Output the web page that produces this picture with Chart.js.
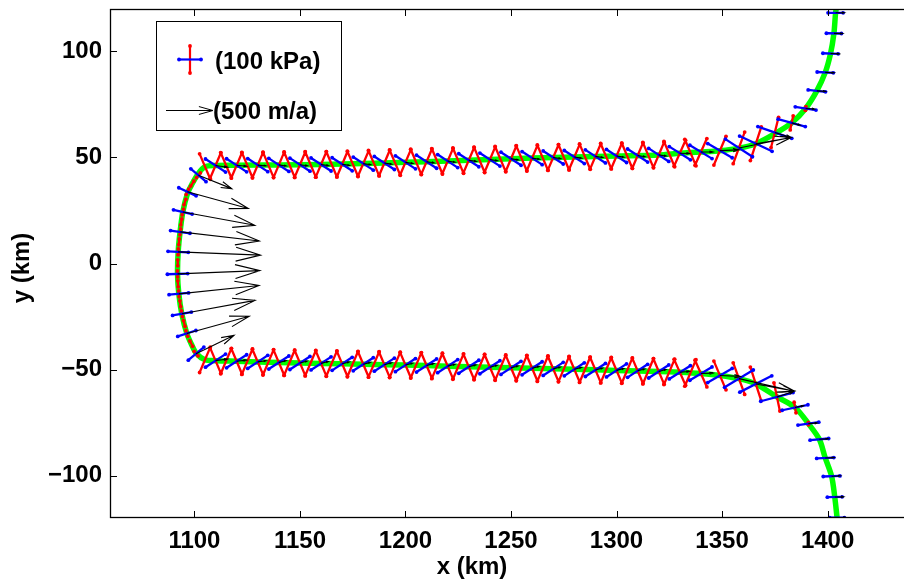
<!DOCTYPE html>
<html>
<head>
<meta charset="utf-8">
<title>Ice shelf stresses and velocities</title>
<script src="https://cdn.jsdelivr.net/npm/chart.js@4.4.1/dist/chart.umd.min.js"></script>
<style>
  html, body { margin: 0; padding: 0; background: #fff; overflow: hidden; }
  #wrap { width: 904px; height: 582px; overflow: hidden; }
</style>
</head>
<body>
<div id="wrap"><canvas id="chart" width="916" height="582"></canvas></div>
<script>
const xTicks = [1100, 1150, 1200, 1250, 1300, 1350, 1400];
const yTicks = [100, 50, 0, -50, -100];
const yTickLabels = ['100', '50', '0', '\u221250', '\u2212100'];

// boundary of the shelf (km)
const boundaryX = [1404.3, 1403.8, 1403.0, 1401.4, 1398.9, 1394.9, 1389.6, 1383.0, 1375.5, 1366.0, 1358.0, 1349.0, 1340.0, 1330.0,
  1320.0, 1300.0, 1280.0, 1260.0, 1240.0, 1220.0, 1200.0, 1180.0, 1160.0, 1140.0, 1120.0, 1110.0, 1105.0,
  1101.9, 1099.0, 1096.7, 1094.5, 1093.2, 1092.3, 1092.0, 1092.6, 1094.0, 1096.4, 1098.7, 1101.0, 1105.0,
  1110.0, 1120.0, 1140.0, 1160.0, 1180.0, 1200.0, 1220.0, 1240.0, 1260.0, 1280.0, 1300.0, 1320.0,
  1330.0, 1340.0, 1349.0, 1358.0, 1366.0, 1376.0, 1384.6, 1390.9, 1396.1, 1398.9, 1401.9, 1403.4, 1404.5, 1404.7];
const boundaryY = [121.0, 118.2, 108.5, 99.0, 90.1, 81.4, 73.1, 66.3, 61.5, 56.5, 54.4, 53.2, 52.6, 52.0,
  51.2, 50.7, 50.2, 49.7, 49.0, 48.3, 47.7, 47.1, 46.7, 46.5, 46.3, 46.2, 45.6,
  42.5, 37.7, 33.0, 24.3, 14.9, 5.5, -4.9, -14.3, -23.7, -33.0, -38.3, -42.5, -45.4,
  -45.8, -46.1, -46.7, -47.1, -47.5, -47.9, -48.4, -48.9, -49.4, -49.9, -50.4, -50.9,
  -51.3, -51.9, -52.8, -54.3, -56.8, -62.9, -67.9, -75.5, -82.9, -91.7, -100.3, -110.1, -119.8, -121.0];

// nodes with a full stress cross: semicircle (10), top margin (22), top bend (13), bottom margin (22), bottom bend (13)
const nodeX = [1101.9, 1096.7, 1094.5, 1093.3, 1092.3, 1092.0, 1092.6, 1094.1, 1096.4, 1100.8,
  1110, 1120, 1130, 1140, 1150, 1160, 1170, 1180, 1190, 1200, 1210, 1220, 1230, 1240, 1250, 1260, 1270, 1280, 1290, 1300, 1310, 1320,
  1330, 1340, 1349, 1358, 1366, 1375, 1383, 1389.6, 1394.9, 1398.9, 1401.4, 1403.0, 1403.8,
  1110, 1120, 1130, 1140, 1150, 1160, 1170, 1180, 1190, 1200, 1210, 1220, 1230, 1240, 1250, 1260, 1270, 1280, 1290, 1300, 1310, 1320,
  1330, 1340, 1349, 1358, 1366, 1376, 1384.6, 1390.9, 1396.1, 1398.9, 1401.9, 1403.4, 1404.5];
const nodeY = [41.6, 33.8, 24.3, 14.9, 5.5, -4.9, -14.3, -23.7, -33.0, -42.5,
  46.2, 46.3, 46.4, 46.5, 46.6, 46.7, 46.8, 47.1, 47.4, 47.7, 48.0, 48.3, 48.7, 49.0, 49.4, 49.7, 50.0, 50.2, 50.5, 50.7, 50.9, 51.2,
  52.0, 52.6, 53.2, 54.5, 56.5, 61.8, 66.3, 73.1, 81.4, 90.1, 99.0, 108.5, 118.2,
  -45.8, -46.1, -46.4, -46.7, -46.9, -47.1, -47.3, -47.5, -47.7, -47.9, -48.1, -48.4, -48.7, -48.9, -49.2, -49.4, -49.7, -49.9, -50.2, -50.4, -50.6, -50.9,
  -51.3, -51.9, -52.8, -54.3, -56.8, -62.9, -67.9, -75.5, -82.9, -91.7, -100.3, -110.1, -119.8];
// tensile axis (blue), degrees and kPa
const blueAngle = [-40, -25, -13, -8, -3, 2, 5, 10, 18, 40,
  -33, -33, -33, -33, -33, -33, -33, -33, -33, -33, -33, -33, -33, -33, -33, -33, -33, -33, -33, -33, -33, -33,
  -32, -31, -30, -33, -25, -19, -15, -9, -6, -3, -2, -1, 0,
  33, 33, 33, 33, 33, 33, 33, 33, 33, 33, 33, 33, 33, 33, 33, 33, 33, 33, 33, 33, 33, 33,
  32, 31, 30, 31, 27, 15, 12, 8, 5, 3, 2, 1, 0];
const blueStress = [83, 80, 80, 82, 85, 85, 82, 80, 80, 85,
  100, 100, 100, 100, 100, 100, 100, 100, 100, 100, 100, 100, 100, 100, 100, 100, 100, 100, 100, 100, 100, 100,
  104, 108, 118, 135, 150, 150, 118, 88, 73, 68, 64, 63, 63,
  100, 100, 100, 100, 100, 100, 100, 100, 100, 100, 100, 100, 100, 100, 100, 100, 100, 100, 100, 100, 100, 100,
  104, 108, 118, 140, 150, 140, 110, 88, 78, 72, 70, 62, 62];
// compressive axis (red), degrees and kPa
const redAngle = [50, 65, 77, 82, 87, -88, -85, -80, -72, -50,
  67, 67, 67, 67, 67, 67, 67, 67, 67, 67, 67, 67, 67, 67, 67, 67, 67, 67, 67, 67, 67, 67,
  66, 66, 67, 70, 72, 76, 78, 80, 0, 0, 0, 0, 0,
  -67, -67, -67, -67, -67, -67, -67, -67, -67, -67, -67, -67, -67, -67, -67, -67, -67, -67, -67, -67, -67, -67,
  -66, -66, -67, -70, -72, -78, -80, -85, 0, 0, 0, 0, 0];
const redStress = [25, 25, 25, 25, 25, 25, 25, 25, 25, 25,
  115, 115, 115, 115, 115, 115, 115, 115, 115, 115, 115, 115, 115, 115, 115, 115, 115, 115, 115, 115, 115, 115,
  118, 122, 130, 140, 148, 130, 60, 15, 0, 0, 0, 0, 0,
  115, 115, 115, 115, 115, 115, 115, 115, 115, 115, 115, 115, 115, 115, 115, 115, 115, 115, 115, 115, 115, 115,
  118, 122, 130, 140, 148, 120, 45, 10, 0, 0, 0, 0, 0];
// velocity at the nodes (m/a)
const velU = [356, 650, 770, 845, 881, 881, 858, 781, 667, 405,
  130, 105, 90, 80, 80, 80, 80, 80, 80, 80, 80, 80, 80, 80, 80, 80, 80, 80, 80, 80, 80, 80,
  100, 130, 200, 557, 377, 174, 90, 95, 95, 95, 95, 95, 95,
  130, 105, 90, 78, 78, 78, 78, 78, 78, 78, 78, 78, 78, 78, 78, 78, 78, 78, 78, 78, 78, 78,
  100, 130, 220, 593, 413, 187, 90, 95, 95, 95, 95, 95, 95];
const velV = [-142, -177, -142, -96, -35, 35, 88, 142, 184, 195,
  -18, -10, -8, -12, -12, -12, -12, -12, -12, -12, -12, -12, -12, -12, -12, -12, -12, -12, -12, -12, -12, -12,
  -3, 0, 8, 110, 65, -54, -25, -6, -5, -4, -3, -2, 0,
  18, 12, 12, 20, 20, 20, 20, 20, 20, 20, 20, 20, 20, 20, 20, 20, 20, 20, 20, 20, 20, 20,
  10, 5, -10, -133, -77, 61, 20, 6, 5, 4, 3, 2, 0];

// in-between nodes carrying only a compressive axis: semicircle (9), top (24), bottom (24)
const midX = [1099.0, 1095.5, 1093.8, 1092.7, 1092.1, 1092.2, 1093.3, 1095.2, 1098.5,
  1105, 1115, 1125, 1135, 1145, 1155, 1165, 1175, 1185, 1195, 1205, 1215, 1225, 1235, 1245, 1255, 1265, 1275, 1285, 1295, 1305, 1315, 1325, 1335,
  1105, 1115, 1125, 1135, 1145, 1155, 1165, 1175, 1185, 1195, 1205, 1215, 1225, 1235, 1245, 1255, 1265, 1275, 1285, 1295, 1305, 1315, 1325, 1335];
const midY = [37.7, 29.0, 19.6, 10.2, 0.3, -9.6, -19.0, -28.3, -37.8,
  45.7, 46.3, 46.4, 46.5, 46.6, 46.7, 46.8, 47.0, 47.3, 47.6, 47.9, 48.2, 48.5, 48.9, 49.2, 49.6, 49.9, 50.1, 50.4, 50.6, 50.8, 51.1, 51.6, 52.3,
  -45.4, -46.0, -46.3, -46.6, -46.8, -47.0, -47.2, -47.4, -47.6, -47.8, -48.0, -48.3, -48.6, -48.8, -49.1, -49.3, -49.6, -49.8, -50.1, -50.3, -50.5, -50.8, -51.1, -51.6];
const midAngle = [58, 72, 80, 85, 90, -86, -82, -75, -62,
  -67, -67, -67, -67, -67, -67, -67, -67, -67, -67, -67, -67, -67, -67, -67, -67, -67, -67, -67, -67, -67, -67, -67, -67,
  67, 67, 67, 67, 67, 67, 67, 67, 67, 67, 67, 67, 67, 67, 67, 67, 67, 67, 67, 67, 67, 67, 67, 67];
const midStress = [25, 25, 25, 25, 25, 25, 25, 25, 25,
  115, 115, 115, 115, 115, 115, 115, 115, 115, 115, 115, 115, 115, 115, 115, 115, 115, 115, 115, 115, 115, 115, 115, 120,
  115, 115, 115, 115, 115, 115, 115, 115, 115, 115, 115, 115, 115, 115, 115, 115, 115, 115, 115, 115, 115, 115, 115, 120];

const STRESS_KM = 0.0566; // arm length in km per kPa
const VEL_KM = 0.04434;   // arrow length in km per m/a (500 m/a = legend arrow)
const FONT = '"Liberation Sans", Arial, Helvetica, sans-serif';

function gap() { return {x: NaN, y: NaN}; }

// two-armed segment through each node
function crossSegments(xs, ys, angs, vals) {
  const pts = [];
  xs.forEach((x, i) => {
    if (!vals[i]) return;
    const a = angs[i] * Math.PI / 180;
    const L = vals[i] * STRESS_KM;
    pts.push({x: x - L * Math.cos(a), y: ys[i] - L * Math.sin(a)},
             {x: x + L * Math.cos(a), y: ys[i] + L * Math.sin(a)}, gap());
  });
  return pts;
}

// quiver style arrows
function arrowSegments() {
  const pts = [];
  const A = 0.3, B = 0.28;
  nodeX.forEach((x, i) => {
    const y = nodeY[i];
    const dx = velU[i] * VEL_KM, dy = velV[i] * VEL_KM;
    const tx = x + dx, ty = y + dy;
    pts.push({x: x, y: y}, {x: tx, y: ty}, gap());
    pts.push({x: tx - A * (dx + B * dy), y: ty - A * (dy - B * dx)}, {x: tx, y: ty},
             {x: tx - A * (dx - B * dy), y: ty - A * (dy + B * dx)}, gap());
  });
  return pts;
}

const boundary = boundaryX.map((x, i) => ({x: x, y: boundaryY[i]}));
const redSegs = crossSegments(nodeX, nodeY, redAngle, redStress).concat(crossSegments(midX, midY, midAngle, midStress));
const blueSegs = crossSegments(nodeX, nodeY, blueAngle, blueStress);
const arrows = arrowSegments();

function drawArrow(ctx, x0, y0, x1, y1) {
  const dx = x1 - x0, dy = y1 - y0;
  const A = 0.3, B = 0.28;
  ctx.beginPath();
  ctx.moveTo(x0, y0); ctx.lineTo(x1, y1);
  ctx.moveTo(x1 - A * (dx + B * dy), y1 - A * (dy - B * dx));
  ctx.lineTo(x1, y1);
  ctx.lineTo(x1 - A * (dx - B * dy), y1 - A * (dy + B * dx));
  ctx.stroke();
}

const framePlugin = {
  id: 'frame',
  afterDraw(chart) {
    const {ctx, chartArea: a, scales} = chart;
    ctx.save();
    ctx.strokeStyle = '#000';
    ctx.lineWidth = 1.3;
    ctx.strokeRect(a.left + 0.5, a.top + 0.5, a.right - a.left - 1, a.bottom - a.top - 1);
    ctx.beginPath();
    xTicks.forEach(v => {
      const p = Math.round(scales.x.getPixelForValue(v)) + 0.5;
      ctx.moveTo(p, a.bottom); ctx.lineTo(p, a.bottom - 7);
      ctx.moveTo(p, a.top); ctx.lineTo(p, a.top + 7);
    });
    yTicks.forEach(v => {
      const p = Math.round(scales.y.getPixelForValue(v)) + 0.5;
      ctx.moveTo(a.left, p); ctx.lineTo(a.left + 7, p);
      ctx.moveTo(a.right, p); ctx.lineTo(a.right - 7, p);
    });
    ctx.lineWidth = 1;
    ctx.stroke();

    // axis titles
    ctx.fillStyle = '#000';
    ctx.font = 'bold 24px ' + FONT;
    ctx.textAlign = 'center';
    ctx.textBaseline = 'middle';
    ctx.fillText('x (km)', 472, 567);
    ctx.save();
    ctx.translate(22, 268);
    ctx.rotate(-Math.PI / 2);
    ctx.fillText('y (km)', 0, 0);
    ctx.restore();

    // legend
    ctx.fillStyle = '#fff';
    ctx.fillRect(156, 21, 185, 109);
    ctx.strokeStyle = '#000';
    ctx.lineWidth = 1;
    ctx.strokeRect(156.5, 21.5, 185, 109);
    ctx.lineWidth = 2.2;
    ctx.strokeStyle = '#ff0000';
    ctx.beginPath(); ctx.moveTo(190, 46); ctx.lineTo(190, 73); ctx.stroke();
    ctx.fillStyle = '#ff0000';
    [46, 73].forEach(yy => { ctx.beginPath(); ctx.arc(190, yy, 1.9, 0, Math.PI * 2); ctx.fill(); });
    ctx.strokeStyle = '#0000ff';
    ctx.beginPath(); ctx.moveTo(179, 59.5); ctx.lineTo(201, 59.5); ctx.stroke();
    ctx.fillStyle = '#0000ff';
    [179, 201].forEach(xx => { ctx.beginPath(); ctx.arc(xx, 59.5, 1.9, 0, Math.PI * 2); ctx.fill(); });
    ctx.strokeStyle = '#000';
    ctx.lineWidth = 1;
    drawArrow(ctx, 166, 110.5, 213, 110.5);
    ctx.fillStyle = '#000';
    ctx.textAlign = 'left';
    ctx.fillText('(100 kPa)', 215, 62);
    ctx.fillText('(500 m/a)', 213, 112);
    ctx.restore();
  }
};

Chart.defaults.font.family = FONT;

const ctx = document.getElementById('chart').getContext('2d');
const chart = new Chart(ctx, {
  type: 'scatter',
  data: {
    datasets: [
      {
        label: 'velocity',
        data: arrows,
        showLine: true,
        borderColor: '#000',
        borderWidth: 1.1,
        pointRadius: 0,
        order: 0
      },
      {
        label: 'tension',
        data: blueSegs,
        showLine: true,
        borderColor: '#0000ff',
        borderWidth: 2.3,
        pointRadius: 1.9,
        pointBorderWidth: 0,
        pointBackgroundColor: '#0000ff',
        order: 1
      },
      {
        label: 'compression',
        data: redSegs,
        showLine: true,
        borderColor: '#ff0000',
        borderWidth: 2.3,
        pointRadius: 1.9,
        pointBorderWidth: 0,
        pointBackgroundColor: '#ff0000',
        order: 2
      },
      {
        label: 'boundary',
        data: boundary,
        showLine: true,
        borderColor: '#00ff00',
        borderWidth: 5.5,
        tension: 0.3,
        pointRadius: 0,
        order: 3
      }
    ]
  },
  options: {
    responsive: false,
    animation: false,
    devicePixelRatio: 1,
    layout: { padding: { top: 9, left: 0, right: 0, bottom: 0 } },
    plugins: {
      legend: { display: false },
      tooltip: { enabled: false }
    },
    scales: {
      x: {
        type: 'linear',
        min: 1060,
        max: 1440,
        grid: { display: false, drawTicks: false },
        border: { display: false },
        ticks: {
          autoSkip: false,
          maxRotation: 0,
          padding: 9,
          color: '#000',
          font: { size: 24, weight: 'bold' },
          callback: v => String(v)
        },
        afterBuildTicks: s => { s.ticks = xTicks.map(v => ({value: v})); },
        afterFit: s => { s.height = 64; s.paddingLeft = 0; s.paddingRight = 0; }
      },
      y: {
        type: 'linear',
        min: -120,
        max: 120,
        grid: { display: false, drawTicks: false },
        border: { display: false },
        ticks: {
          autoSkip: false,
          padding: 8,
          color: '#000',
          font: { size: 24, weight: 'bold' },
          callback: v => yTickLabels[yTicks.indexOf(v)]
        },
        afterBuildTicks: s => { s.ticks = yTicks.map(v => ({value: v})); },
        afterFit: s => { s.width = 110; s.paddingTop = 0; s.paddingBottom = 0; }
      }
    }
  },
  plugins: [framePlugin]
});
</script>
</body>
</html>
